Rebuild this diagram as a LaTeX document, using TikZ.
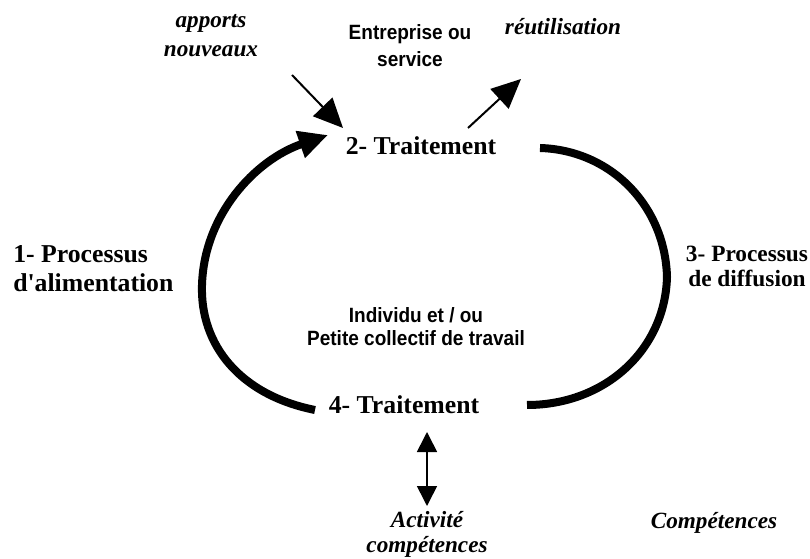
\documentclass[tikz,border=0pt]{standalone}
\usepackage{fontspec}
\setmainfont{Liberation Serif}[Ligatures=TeXOff]
\newfontfamily\arialfont[FakeStretch=0.92]{Liberation Sans}
\usepackage{tikz}
\usetikzlibrary{arrows.meta}

\begin{document}
\begin{tikzpicture}[
    x=0.75pt, y=-0.75pt,
    cycle/.style={line width=6pt, line join=miter},
    flux/.style={line width=1.5pt, -{Triangle[length=22pt,width=20pt]}},
    titre/.style={inner sep=0pt, anchor=base, align=center, font=\fontsize{19.3}{21.75}\selectfont\bfseries},
    lieu/.style={inner sep=0pt, anchor=base, align=center, font=\fontsize{15.5}{18}\selectfont\arialfont\bfseries},
    objet/.style={inner sep=0pt, anchor=base, align=center, font=\fontsize{17.4}{21.75}\selectfont\bfseries\itshape}
]
\useasboundingbox (0,0) rectangle (810,559);

% Traitements
\node[titre] (t2) at (421,155) {2- Traitement};
\node[titre] (t4) at (404,413) {4- Traitement};

% Processus (base = derniere ligne)
\node[titre, anchor=base west, align=left] (proc1) at (13,292) {1- Processus\\d'alimentation};
\node[titre, font=\fontsize{17.5}{18.75}\selectfont\bfseries] (proc3) at (747,287) {3- Processus\\de diffusion};

% Lieux
\node[lieu, font=\fontsize{15.5}{20.25}\selectfont\arialfont\bfseries] (entreprise) at (410,67) {Entreprise ou\\service};
\node[lieu, font=\fontsize{15.5}{17.6}\selectfont\arialfont\bfseries] (individu) at (416,346) {Individu et / ou\\Petite collectif de travail};

% Apports et sorties
\node[objet] (apports) at (211,57) {apports\\nouveaux};
\node[objet] (reutil) at (563,35) {réutilisation};
\node[objet, font=\fontsize{17.4}{18.75}\selectfont\bfseries\itshape] (activite) at (427,552) {Activité\\compétences};
\node[objet] (competences) at (714,528) {Compétences};

% Cycle
\coordinate (g1) at (315,410);
\coordinate (g2) at (202,285);
\coordinate (g3) at (328,135);
\draw[cycle, -{Triangle[length=22pt,width=20pt]}] (g1) .. controls (240,395) and (200,345) .. (g2)
    .. controls (204,215) and (255,160) .. (g3);

\coordinate (d1) at (540,148);
\coordinate (d2) at (667,277);
\coordinate (d3) at (527,405);
\draw[cycle] (d1) .. controls (610,150) and (665,205) .. (d2)
    .. controls (665,350) and (605,405) .. (d3);

% Fleches
\coordinate (a1) at (292,75);
\coordinate (a2) at (343,128);
\draw[flux] (a1) -- (a2);
\coordinate (r1) at (468,128);
\coordinate (r2) at (521,79);
\draw[flux] (r1) -- (r2);
\coordinate (c1) at (427,432);
\coordinate (c2) at (427,506);
\draw[line width=1.2pt, {Triangle[length=15pt,width=15pt]}-{Triangle[length=15pt,width=15pt]}] (c1) -- (c2);
\end{tikzpicture}
\end{document}
